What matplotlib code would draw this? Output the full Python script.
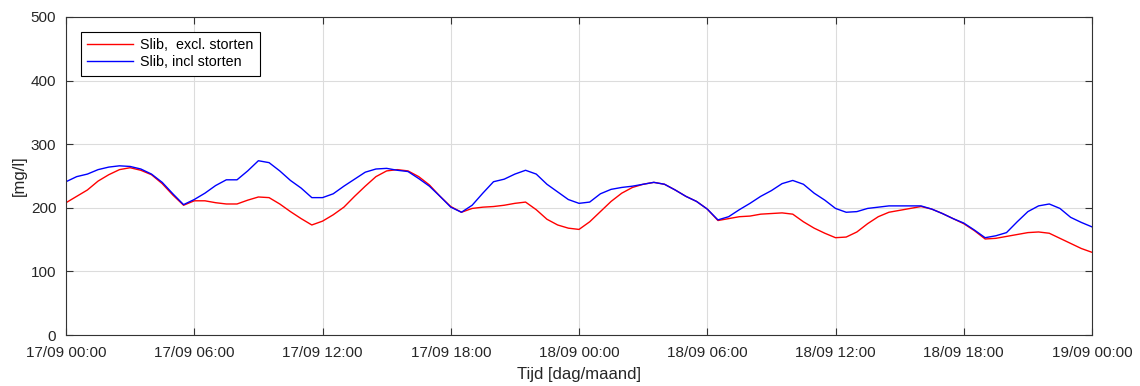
import pandas as pd
import matplotlib
matplotlib.use("Agg")
import matplotlib.pyplot as plt
import matplotlib.dates as mdates

plt.rcParams['font.family'] = ['Liberation Sans', 'DejaVu Sans']

#start of the time axis, values are read every half hour
start = pd.Timestamp("2000-09-17 00:00")
hours = [i * 0.5 for i in range(97)]

#red line: slib excluding storten [mg/l]
excl_vals = [208, 218, 228, 242, 252, 260, 263, 259, 252, 238, 220, 204,
             211, 211, 208, 206, 206, 212, 217, 216, 206, 194, 183, 173,
             179, 189, 201, 218, 234, 249, 258, 260, 258, 249, 236, 218,
             202, 193, 199, 201, 202, 204, 207, 209, 197, 182, 173, 168,
             166, 178, 194, 210, 223, 232, 237, 240, 237, 228, 218, 210,
             198, 180, 183, 186, 187, 190, 191, 192, 190, 178, 168, 160,
             153, 154, 162, 175, 186, 193, 196, 199, 202, 198, 191, 183,
             175, 164, 151, 152, 155, 158, 161, 162, 160, 152, 144, 136,
             130]

#blue line: slib including storten [mg/l]
incl_vals = [241, 249, 253, 260, 264, 266, 265, 261, 253, 240, 222, 205,
             213, 223, 235, 244, 244, 258, 274, 271, 258, 243, 231, 216,
             216, 222, 234, 245, 256, 261, 262, 259, 257, 246, 234, 218,
             201, 193, 204, 223, 241, 245, 253, 259, 253, 237, 225, 213,
             207, 209, 222, 229, 232, 234, 237, 240, 237, 228, 218, 210,
             198, 181, 186, 197, 207, 218, 227, 238, 243, 237, 223, 212,
             199, 193, 194, 199, 201, 203, 203, 203, 203, 198, 191, 183,
             176, 165, 153, 156, 161, 178, 194, 203, 206, 199, 185, 177,
             170]

times = start + pd.to_timedelta(hours, unit="h")

fig = plt.figure(figsize=(11.4, 3.86), dpi=100)
ax = fig.add_axes([0.0579, 0.1321, 0.9000, 0.8239])

ax.plot(times, excl_vals, color='red', lw=1.0, label='Slib,  excl. storten')
ax.plot(times, incl_vals, color='blue', lw=1.0, label='Slib, incl storten')

ax.set_xlim(start, start + pd.Timedelta(hours=48))
ax.set_ylim(0, 500)
ax.set_xticks(start + pd.to_timedelta(range(0, 49, 6), unit="h"))
ax.xaxis.set_major_formatter(mdates.DateFormatter('%d/%m %H:%M'))
ax.set_yticks(range(0, 501, 100))

ax.grid(True, color='#dcdcdc', lw=0.8)
ax.tick_params(direction='in', top=True, right=True, labelsize=11, length=5,
               color='#333333', labelcolor='#262626')
ax.tick_params(axis='x', pad=8)
ax.tick_params(axis='y', pad=7)
for s in ax.spines.values():
    s.set_color('#333333')
    s.set_linewidth(0.8)

ax.set_xlabel('Tijd [dag/maand]', fontsize=12, labelpad=5, color='#262626')
ax.set_ylabel('[mg/l]', fontsize=12, labelpad=3, color='#262626')

leg = ax.legend(loc='upper left', bbox_to_anchor=(0.0146, 0.953), fontsize=10.3, fancybox=False,
                framealpha=1, edgecolor='black', borderaxespad=0, handlelength=3.2,
                handletextpad=0.5, borderpad=0.45, labelspacing=0.2)
leg.get_frame().set_linewidth(0.8)

fig.savefig('out.png', dpi=100)
